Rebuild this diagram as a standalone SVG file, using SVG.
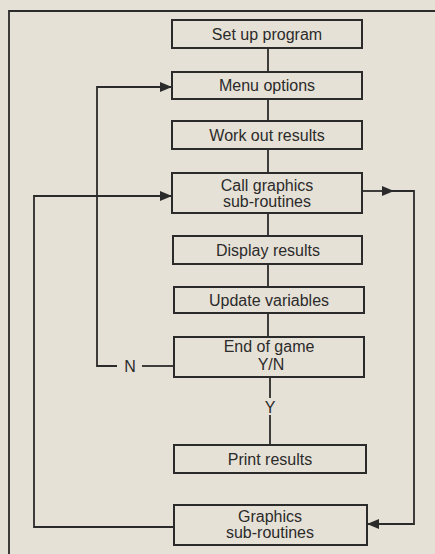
<svg xmlns="http://www.w3.org/2000/svg" width="435" height="554" viewBox="0 0 435 554">
<style>
.bg{fill:#e6e1d6}
.box{fill:#e6e1d6;stroke:#2b2b2b;stroke-width:2}
.ln{fill:none;stroke:#2b2b2b;stroke-width:1.8}
text{font-family:"Liberation Sans",Arial,sans-serif;font-size:16px;fill:#2b2b2b;text-anchor:middle}
</style>
<defs>
<marker id="ah" viewBox="0 0 12 10" refX="12" refY="5" markerWidth="12" markerHeight="10" markerUnits="userSpaceOnUse" orient="auto">
<path d="M0,0 L12,5 L0,10 z" fill="#2b2b2b"/>
</marker>
<marker id="ahm" viewBox="0 0 12 10" refX="6" refY="5" markerWidth="12" markerHeight="10" markerUnits="userSpaceOnUse" orient="auto">
<path d="M0,0 L12,5 L0,10 z" fill="#2b2b2b"/>
</marker>
</defs>
<rect class="bg" x="0" y="0" width="435" height="554"/>
<path class="ln" d="M9,554 V11 H435" stroke-width="2.2"/>
<g id="connectors">
<path class="ln" d="M268,48 V72"/>
<path class="ln" d="M268,99 V121"/>
<path class="ln" d="M268,149 V173"/>
<path class="ln" d="M268,213 V236"/>
<path class="ln" d="M268,264 V287"/>
<path class="ln" d="M268,313 V337"/>
<path class="ln" d="M270,377 V398"/>
<path class="ln" d="M270,415 V445"/>
<path class="ln" d="M174,366 H142"/>
<path class="ln" d="M117,366 H97 V87 H172" marker-end="url(#ah)"/>
<path class="ln" d="M174,527 H34 V196 H172" marker-end="url(#ah)"/>
<path class="ln" d="M362,191 H388" marker-end="url(#ahm)"/>
<path class="ln" d="M385,191 H414 V524 H367" marker-end="url(#ah)"/>
<text x="130" y="372">N</text>
<text x="270" y="413">Y</text>
</g>
<g id="n1"><rect class="box" x="172" y="20" width="190" height="28"/><text x="267" y="40">Set up program</text></g>
<g id="n2"><rect class="box" x="172" y="72" width="190" height="27"/><text x="267" y="91">Menu options</text></g>
<g id="n3"><rect class="box" x="172" y="121" width="190" height="28"/><text x="267" y="141">Work out results</text></g>
<g id="n4"><rect class="box" x="172" y="173" width="190" height="40"/><text x="267" y="191">Call graphics</text><text x="267" y="207">sub-routines</text></g>
<g id="n5"><rect class="box" x="173" y="236" width="189" height="28"/><text x="268" y="256">Display results</text></g>
<g id="n6"><rect class="box" x="174" y="287" width="190" height="26"/><text x="269" y="306">Update variables</text></g>
<g id="n7"><rect class="box" x="174" y="337" width="190" height="40"/><text x="269" y="352">End of game</text><text x="271" y="370">Y/N</text></g>
<g id="n8"><rect class="box" x="174" y="445" width="192" height="28"/><text x="270" y="465">Print results</text></g>
<g id="n9"><rect class="box" x="174" y="505" width="193" height="40"/><text x="270" y="522">Graphics</text><text x="270" y="538">sub-routines</text></g>
</svg>
